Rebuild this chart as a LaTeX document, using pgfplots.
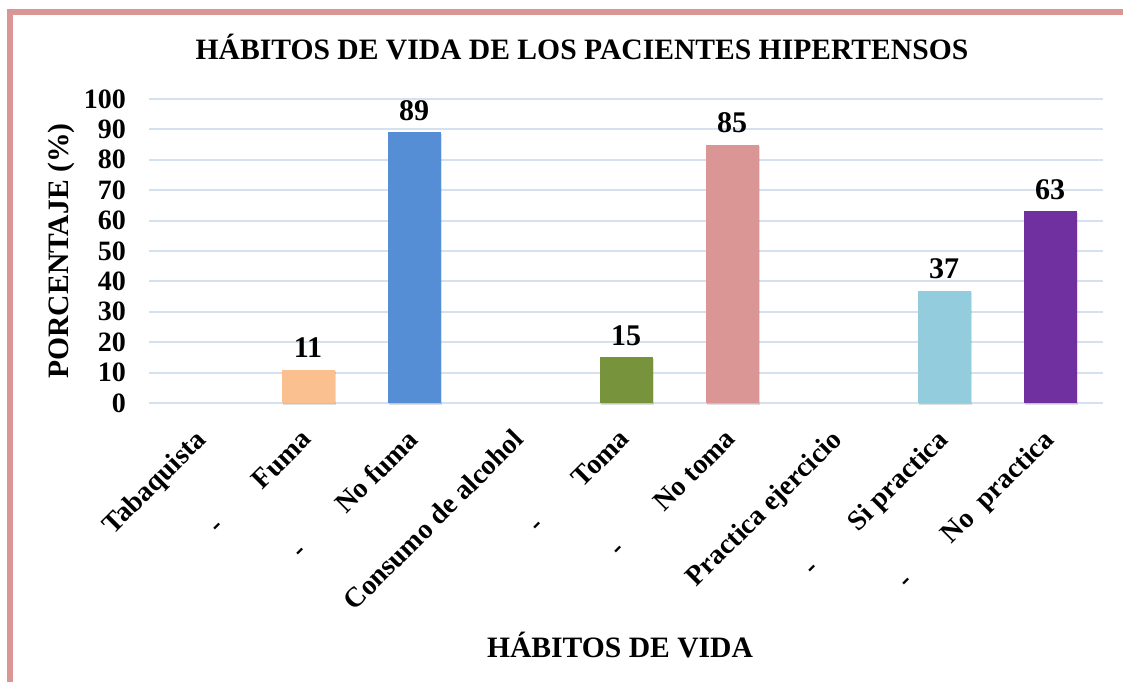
\documentclass[border=0pt]{standalone}
\usepackage{fontspec}
\setmainfont{Liberation Serif}
\usepackage{pgfplots}
\pgfplotsset{compat=1.18}
\usetikzlibrary{shadows}
\definecolor{framec}{HTML}{D99694}
\definecolor{gridc}{HTML}{D6E1F0}
\definecolor{cfuma}{HTML}{FAC090}
\definecolor{cnofuma}{HTML}{558ED5}
\definecolor{ctoma}{HTML}{77933C}
\definecolor{cnotoma}{HTML}{D99694}
\definecolor{csi}{HTML}{93CDDD}
\definecolor{cno}{HTML}{7030A0}
\newcommand{\lf}{\bfseries\fontsize{14}{16}\selectfont}
\newcommand{\df}{\bfseries\fontsize{15}{17}\selectfont}
\newcommand{\tf}{\bfseries\fontsize{14.8}{17}\selectfont}
\begin{document}
\begin{tikzpicture}
\useasboundingbox (0,0) rectangle (561.5pt,341pt);
\draw[framec, line width=3pt] (5pt,0pt) -- (5pt,335pt) -- (561.5pt,335pt);
\begin{axis}[
  at={(74.5pt,139.5pt)}, anchor=south west,
  scale only axis, width=477pt, height=152pt,
  xmin=-0.5, xmax=8.5, ymin=0, ymax=100,
  ytick={0,10,...,100},
  xtick={0,1,...,8},
  xticklabels={Tabaquista,{-\hspace{27pt}Fuma},{-\hspace{27pt}No fuma},Consumo de alcohol,{-\hspace{27pt}Toma},{-\hspace{27pt}No toma},Practica ejercicio,{-\hspace{27pt}Si practica},{-\hspace{27pt}No\ \ practica}},
  xticklabel style={rotate=45, anchor=north east, font=\lf, inner sep=1pt, yshift=-1.5pt, xshift=-7.5pt},
  yticklabel style={font=\lf, xshift=-8pt},
  /pgf/number format/assume math mode=true,
  ymajorgrids, grid style={gridc, line width=1pt},
  axis line style={draw=none},
  major tick style={draw=none},
  ybar, bar width=26.5pt, bar shift=0pt,
  clip=false,
  nodes near coords,
  every node near coord/.append style={font=\df, yshift=2.5pt, black},
  every axis plot/.append style={drop shadow={shadow xshift=0.8pt, shadow yshift=-0.8pt, fill=black, opacity=0.12}},
]
\addplot[fill=cfuma, draw=none] coordinates {(1,11)};
\addplot[fill=cnofuma, draw=none] coordinates {(2,89)};
\addplot[fill=ctoma, draw=none] coordinates {(4,15)};
\addplot[fill=cnotoma, draw=none] coordinates {(5,85)};
\addplot[fill=csi, draw=none] coordinates {(7,37)};
\addplot[fill=cno, draw=none] coordinates {(8,63)};
\end{axis}
\node[font=\tf] at (291pt,317.5pt) {HÁBITOS DE VIDA DE LOS PACIENTES HIPERTENSOS};
\node[font=\tf, rotate=90] at (30.5pt,215.5pt) {PORCENTAJE (\%)};
\node[font=\tf] at (310pt,18.5pt) {HÁBITOS DE VIDA};
\end{tikzpicture}
\end{document}
